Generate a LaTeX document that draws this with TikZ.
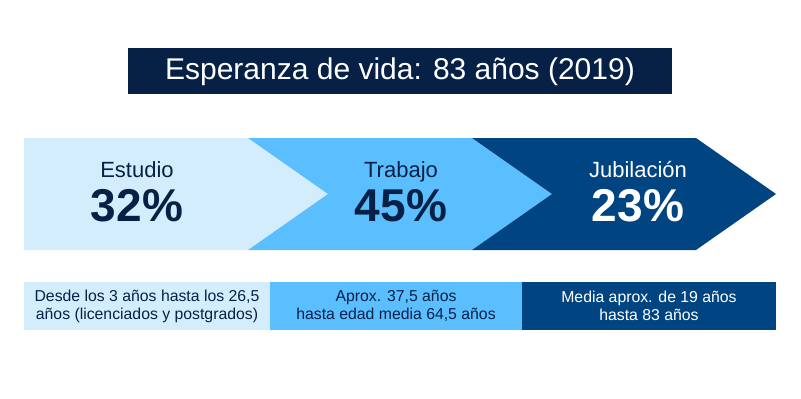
\documentclass[tikz,border=0pt]{standalone}
\usepackage{fontspec}
\setmainfont{Liberation Sans}
\definecolor{navy}{HTML}{072146}
\definecolor{lightb}{HTML}{D4EDFC}
\definecolor{midb}{HTML}{5BBEFF}
\definecolor{darkb}{HTML}{004481}
\tikzset{
  lbl/.style={anchor=base, inner sep=0pt, font=\fontsize{22}{26}\selectfont},
  pct/.style={anchor=base, inner sep=0pt, font=\fontsize{46}{50}\selectfont\bfseries},
  note/.style={anchor=center, inner sep=0pt, align=center, font=\fontsize{15.8}{18}\selectfont},
}
\begin{document}
\begin{tikzpicture}[x=1pt,y=-1pt]
\useasboundingbox (0,0) rectangle (801,399);
\fill[white] (0,0) rectangle (801,399);
% title
\fill[navy] (128,48) rectangle (672,94);
\node[anchor=base, inner sep=0pt, text=white, font=\fontsize{30}{34}\selectfont] (title) at (400,79) {Esperanza de vida: 83 años (2019)};
% chevrons
\fill[lightb] (24,138) -- (248,138) -- (328,194) -- (248,250) -- (24,250) -- cycle;
\fill[midb] (248,138) -- (472,138) -- (552,194) -- (472,250) -- (248,250) -- (328,194) -- cycle;
\fill[darkb] (472,138) -- (696,138) -- (776,194) -- (696,250) -- (472,250) -- (552,194) -- cycle;
\node[lbl, text=navy] (l1) at (137,177) {Estudio};
\node[pct, text=navy] (p1) at (137,221) {32\%};
\node[lbl, text=navy] (l2) at (401,177) {Trabajo};
\node[pct, text=navy] (p2) at (401,221) {45\%};
\node[lbl, text=white] (l3) at (638,177) {Jubilación};
\node[pct, text=white] (p3) at (638,221) {23\%};
% bottom bars
\fill[lightb] (24,282) rectangle (270,330);
\fill[midb] (270,282) rectangle (522,330);
\fill[darkb] (522,282) rectangle (776,330);
\node[note, text=navy] (n1) at (147,306) {Desde los 3 años hasta los 26,5\\años (licenciados y postgrados)};
\node[note, text=navy] (n2) at (396,306) {Aprox. 37,5 años\\hasta edad media 64,5 años};
\node[note, text=white] (n3) at (649,306) {Media aprox. de 19 años\\hasta 83 años};
\end{tikzpicture}
\end{document}
